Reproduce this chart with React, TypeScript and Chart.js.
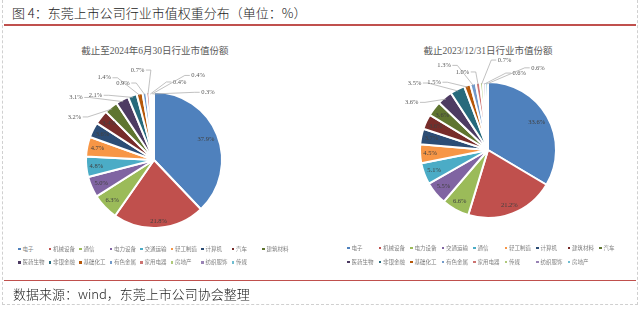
import React, { useEffect, useRef } from "react";
import { Chart, registerables } from "chart.js";

Chart.register(...registerables);

const headerText = "图 4：东莞上市公司行业市值权重分布（单位：%）";
const sourceText = "数据来源：wind，东莞上市公司协会整理";

const leftTitle = "截止至2024年6月30日行业市值份额";
const leftCategories = ["电子", "机械设备", "通信", "电力设备", "交通运输", "轻工制造", "计算机", "汽车", "建筑材料", "医药生物", "非银金融", "基础化工", "有色金属", "家用电器", "房地产", "纺织服饰", "传媒"];
const leftValues = [37.9, 21.8, 6.3, 5.0, 4.8, 4.7, 3.6, 3.4, 3.2, 3.1, 2.1, 1.4, 0.9, 0.7, 0.4, 0.4, 0.3];

const rightTitle = "截止2023/12/31日行业市值份额";
const rightCategories = ["电子", "机械设备", "电力设备", "交通运输", "通信", "轻工制造", "计算机", "建筑材料", "汽车", "医药生物", "非银金融", "基础化工", "有色金属", "家用电器", "传媒", "纺织服饰", "房地产"];
const rightValues = [33.6, 21.2, 6.6, 5.5, 5.1, 4.5, 3.7, 3.6, 3.6, 3.6, 3.5, 1.5, 1.3, 1.0, 0.7, 0.6, 0.6];

const COLORS = [
  "#4F81BD", "#C0504D", "#9BBB59", "#8064A2", "#4BACC6", "#F79646",
  "#2C4D75", "#772C2A", "#5F7530", "#4D3B62", "#276A7C", "#B65708",
  "#729ACA", "#CD7371", "#AFC97A", "#9983B5", "#6FBDD1",
];

const LABEL_SIZE = 6.5;
const LABEL_FONT = `${LABEL_SIZE}px "Liberation Serif", "DejaVu Serif", serif`;

const pieLabels = {
  id: "pieLabels",
  afterDatasetsDraw(chart: any, _args: any, opts: any) {
    const ctx = chart.ctx;
    const meta = chart.getDatasetMeta(0);
    const data = chart.data.datasets[0].data as number[];
    ctx.save();
    ctx.font = LABEL_FONT;
    ctx.textBaseline = "middle";
    const outs: any[] = [];
    meta.data.forEach((arc: any, i: number) => {
      const p = arc.getProps(["x", "y", "startAngle", "endAngle", "outerRadius"], true);
      const mid = (p.startAngle + p.endAngle) / 2;
      const text = data[i].toFixed(1) + "%";
      const w = ctx.measureText(text).width;
      if (i < opts.insideCount) {
        const c = Math.cos(mid), s = Math.sin(mid);
        const r = p.outerRadius - (Math.abs(c) * w / 2 + Math.abs(s) * LABEL_SIZE / 2) - 3;
        ctx.fillStyle = "#404040";
        ctx.textAlign = "center";
        ctx.fillText(text, p.x + c * r, p.y + s * r);
      } else {
        outs.push({ mid, t: mid, text, w, p });
      }
    });
    outs.sort((a, b) => a.mid - b.mid);
    const gap = (opts.minGap * Math.PI) / 180;
    for (let it = 0; it < 400; it++) {
      for (let k = 1; k < outs.length; k++) {
        const d = outs[k].t - outs[k - 1].t;
        if (d < gap) {
          const push = (gap - d) / 2;
          outs[k].t += push;
          outs[k - 1].t -= push;
        }
      }
    }
    outs.forEach((o, k) => {
      const { x, y, outerRadius: R } = o.p;
      const rr = R + (k % 2 === 0 ? opts.near : opts.far);
      const ex = x + Math.cos(o.t) * rr;
      const ey = y + Math.sin(o.t) * rr;
      const sx = x + Math.cos(o.mid) * (R - 2);
      const sy = y + Math.sin(o.mid) * (R - 2);
      const leftSide = ex < x;
      const hx = leftSide ? ex - 5 : ex + 5;
      ctx.strokeStyle = "#A6A6A6";
      ctx.lineWidth = 0.7;
      ctx.beginPath();
      ctx.moveTo(sx, sy);
      ctx.lineTo(ex, ey);
      ctx.lineTo(hx, ey);
      ctx.stroke();
      ctx.fillStyle = "#595959";
      ctx.textAlign = leftSide ? "right" : "left";
      ctx.fillText(o.text, leftSide ? hx - 1.5 : hx + 1.5, ey);
    });
    ctx.restore();
  },
};

type PieProps = {
  values: number[];
  categories: string[];
  left: number;
  top: number;
  width: number;
  height: number;
  cx: number;
  cy: number;
  r: number;
  insideCount: number;
};

function PieChart({ values, categories, left, top, width, height, cx, cy, r, insideCount }: PieProps) {
  const ref = useRef<HTMLCanvasElement>(null);
  useEffect(() => {
    const canvas = ref.current!;
    const size = 2 * r + 2;
    const pl = cx - size / 2;
    const pt = cy - size / 2;
    const chart = new Chart(canvas, {
      type: "pie",
      data: {
        labels: categories,
        datasets: [
          {
            data: values,
            backgroundColor: COLORS.slice(0, values.length),
            borderColor: "#FFFFFF",
            borderWidth: 2,
          },
        ],
      },
      options: {
        responsive: false,
        animation: false,
        devicePixelRatio: 1,
        layout: {
          padding: { left: pl, top: pt, right: width - pl - size, bottom: height - pt - size },
        },
        plugins: {
          legend: { display: false },
          tooltip: { enabled: false },
          title: { display: false },
          pieLabels: { insideCount, minGap: 11, near: 11, far: 22 },
        } as any,
      },
      plugins: [pieLabels as any],
    });
    return () => chart.destroy();
  }, []);
  return (
    <canvas
      ref={ref}
      width={width}
      height={height}
      style={{ position: "absolute", left, top, width, height }}
    />
  );
}

function Legend({ categories, left, top, colW, rowH, perRow }: { categories: string[]; left: number; top: number; colW: number; rowH: number; perRow: number }) {
  return (
    <div style={{ position: "absolute", left, top }}>
      {categories.map((c, i) => {
        const row = Math.floor(i / perRow);
        const col = i % perRow;
        return (
          <div
            key={i}
            style={{
              position: "absolute",
              left: col * colW,
              top: row * rowH,
              whiteSpace: "nowrap",
              display: "flex",
              alignItems: "center",
              fontSize: 5.5,
              lineHeight: "7px",
              color: "#7F7F7F",
              fontFamily: '"Noto Sans CJK SC", sans-serif',
            }}
          >
            <span style={{ display: "inline-block", width: 2.5, height: 2.5, background: COLORS[i], marginRight: 2 }} />
            {c}
          </div>
        );
      })}
    </div>
  );
}

const titleStyle: React.CSSProperties = {
  position: "absolute",
  transform: "translateX(-50%)",
  whiteSpace: "nowrap",
  fontSize: 9.5,
  lineHeight: "12px",
  fontWeight: 400,
  color: "#595959",
  fontFamily: '"Liberation Serif", "Noto Sans CJK SC", serif',
};

export default function App() {
  return (
    <div
      style={{
        position: "fixed",
        left: 0,
        top: 0,
        width: 640,
        height: 309,
        background: "#FFFFFF",
        overflow: "hidden",
        fontFamily: '"Noto Sans CJK SC", sans-serif',
      }}
    >
      <div style={{ position: "absolute", left: 2, top: 0, width: 634, height: 304, borderLeft: "1px dashed #D0D0D0", borderRight: "1px dashed #D0D0D0", borderBottom: "1px dashed #D0D0D0" }} />
      <div style={{ position: "absolute", left: 12, top: 4, fontSize: 13, lineHeight: "18px", fontWeight: 300, color: "#222", whiteSpace: "nowrap" }}>{headerText}</div>
      <div style={{ position: "absolute", left: 4, top: 24, width: 632, height: 1.5, background: "#C0504D" }} />

      <div style={{ ...titleStyle, left: 155, top: 45 }}>{leftTitle}</div>
      <div style={{ ...titleStyle, left: 488, top: 45 }}>{rightTitle}</div>

      <PieChart values={leftValues} categories={leftCategories} left={0} top={30} width={320} height={215} cx={154} cy={130} r={68} insideCount={8} />
      <PieChart values={rightValues} categories={rightCategories} left={320} top={30} width={315} height={215} cx={168} cy={120} r={68} insideCount={9} />

      <Legend categories={leftCategories} left={18} top={245.5} colW={30.5} rowH={13.5} perRow={9} />
      <Legend categories={rightCategories} left={347} top={244.5} colW={31.5} rowH={14} perRow={9} />

      <div style={{ position: "absolute", left: 4, top: 279.5, width: 632, height: 1.5, background: "#C0504D" }} />
      <div style={{ position: "absolute", left: 13, top: 285, fontSize: 13, lineHeight: "18px", fontWeight: 300, color: "#222", whiteSpace: "nowrap" }}>{sourceText}</div>
    </div>
  );
}
